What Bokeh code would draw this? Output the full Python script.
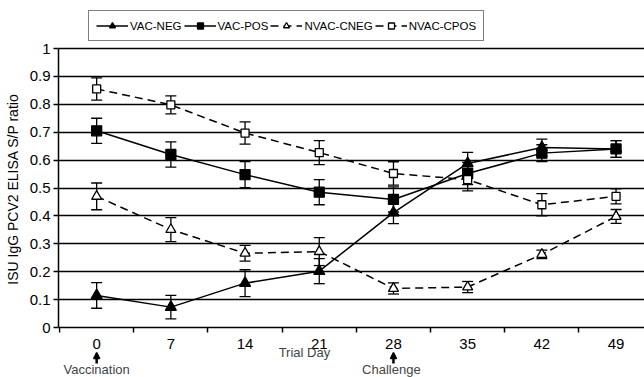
from bokeh.plotting import figure
from bokeh.models import (Range1d, FixedTicker, ColumnDataSource, Whisker, TeeHead,
                          Legend, LegendItem, Label, Arrow, NormalHead)
from bokeh.embed import file_html
from bokeh.resources import INLINE

days = [0, 7, 14, 21, 28, 35, 42, 49]
day_labels = ["0", "7", "14", "21", "28", "35", "42", "49"]

vac_neg = [0.115, 0.073, 0.159, 0.202, 0.412, 0.588, 0.645, 0.640]
vac_neg_err = [0.046, 0.042, 0.048, 0.045, 0.040, 0.040, 0.030, 0.030]
vac_pos = [0.705, 0.620, 0.548, 0.485, 0.459, 0.552, 0.625, 0.640]
vac_pos_err = [0.045, 0.045, 0.047, 0.045, 0.045, 0.040, 0.030, 0.030]
nvac_cneg = [0.470, 0.351, 0.266, 0.272, 0.140, 0.145, 0.262, 0.398]
nvac_cneg_err = [0.048, 0.043, 0.028, 0.050, 0.020, 0.020, 0.015, 0.025]
nvac_cpos = [0.855, 0.798, 0.697, 0.627, 0.552, 0.530, 0.440, 0.470]
nvac_cpos_err = [0.040, 0.032, 0.040, 0.043, 0.042, 0.040, 0.040, 0.027]

y_ticks = [0, 0.1, 0.2, 0.3, 0.4, 0.5, 0.6, 0.7, 0.8, 0.9, 1.0]
y_tick_labels = ["0", "0.1", "0.2", "0.3", "0.4", "0.5", "0.6", "0.7", "0.8", "0.9", "1"]

FONT = "Liberation Sans"
W, H = 644, 377
LEFT = 58
TOP_PX, BOT_PX = 48, 327          # figure-pixel rows of y=1 and y=0
PX = BOT_PX - TOP_PX              # pixels per 1.0 of y
Y_TOP = 1 + TOP_PX / PX
Y_BOT = -(H - BOT_PX) / PX
X0 = -3.6
X1 = X0 + (W - LEFT) / 10.6


def ypx(px):
    """figure pixel row -> data y"""
    return -(px - BOT_PX) / PX


p = figure(width=W, height=H, output_backend="svg", toolbar_location=None,
           x_range=Range1d(X0, X1), y_range=Range1d(Y_BOT, Y_TOP))
p.min_border_left = LEFT
p.min_border_right = 0
p.min_border_top = 0
p.min_border_bottom = 0
p.outline_line_color = None
p.background_fill_color = "white"
p.border_fill_color = "white"

# axes
p.xaxis.fixed_location = 0
p.xaxis.bounds = (X0, X1)
p.xaxis.ticker = FixedTicker(ticks=days, minor_ticks=[d + 3.5 for d in [-7] + days])
p.xaxis.major_label_overrides = {d: l for d, l in zip(days, day_labels)}
p.xaxis.major_tick_out = 0
p.xaxis.major_tick_in = 0
p.xaxis.minor_tick_out = 5
p.xaxis.minor_tick_in = 0
p.xaxis.major_label_standoff = 6
p.yaxis.bounds = (0, 1)
p.yaxis.ticker = FixedTicker(ticks=y_ticks)
p.yaxis.major_label_overrides = {t: l for t, l in zip(y_ticks, y_tick_labels)}
p.yaxis.major_tick_out = 5
p.yaxis.major_tick_in = 0
p.yaxis.minor_tick_out = 0
p.yaxis.major_label_standoff = 3
p.yaxis.axis_label = "ISU IgG PCV2 ELISA S/P ratio"
p.yaxis.axis_label_standoff = 6
for ax in (p.xaxis, p.yaxis):
    ax.axis_line_color = "black"
    ax.axis_line_width = 1.5
    ax.major_tick_line_color = "black"
    ax.minor_tick_line_color = "black"
    ax.major_tick_line_width = 1.5
    ax.minor_tick_line_width = 1.5
    ax.major_label_text_font = FONT
    ax.major_label_text_font_size = "15px"
    ax.major_label_text_color = "black"
    ax.axis_label_text_font = FONT
    ax.axis_label_text_font_size = "14px"
    ax.axis_label_text_font_style = "normal"
    ax.axis_label_text_color = "black"

p.xgrid.grid_line_color = None
p.ygrid.ticker = FixedTicker(ticks=y_ticks[1:])
p.ygrid.grid_line_color = "black"
p.ygrid.grid_line_width = 1.5

series = [
    ("VAC-NEG", vac_neg, vac_neg_err, "triangle", "black", "solid", 11),
    ("VAC-POS", vac_pos, vac_pos_err, "square", "black", "solid", 10),
    ("NVAC-CNEG", nvac_cneg, nvac_cneg_err, "triangle", "white", "8 5", 10),
    ("NVAC-CPOS", nvac_cpos, nvac_cpos_err, "square", "white", "8 5", 8),
]

items = []
for name, vals, errs, marker, fill, dash, size in series:
    src = ColumnDataSource(dict(x=days, y=vals,
                                upper=[v + e for v, e in zip(vals, errs)],
                                lower=[v - e for v, e in zip(vals, errs)]))
    w = Whisker(source=src, base="x", upper="upper", lower="lower",
                line_color="black", line_width=1.3,
                upper_head=TeeHead(size=11, line_color="black", line_width=1.3),
                lower_head=TeeHead(size=11, line_color="black", line_width=1.3))
    p.add_layout(w)
    lr = p.line("x", "y", source=src, line_color="black", line_width=1.5, line_dash=dash)
    sr = p.scatter("x", "y", source=src, marker=marker, size=size,
                   fill_color=fill, line_color="black", line_width=1.3)
    items.append(LegendItem(label=name, renderers=[lr, sr]))

# legend: box from px (88, 12) to (485, 41); location = bottom-left in frame px
legend = Legend(items=items, orientation="horizontal", location=(88 - LEFT, H - 41))
legend.glyph_width = 32
legend.glyph_height = 15
legend.label_standoff = 2
legend.spacing = 2
legend.padding = 7
legend.margin = 0
legend.label_text_font = FONT
legend.label_text_font_size = "11.5px"
legend.label_text_color = "black"
legend.border_line_color = "black"
legend.border_line_width = 1
legend.background_fill_alpha = 1
p.add_layout(legend, "center")

# annotations below the axis
p.add_layout(Label(x=19.6, y=ypx(352), text="Trial Day", text_align="center",
                   text_baseline="middle", text_font=FONT, text_font_size="13px"))
p.add_layout(Label(x=0, y=ypx(369), text="Vaccination", text_align="center",
                   text_baseline="middle", text_font=FONT, text_font_size="13px"))
p.add_layout(Label(x=27.8, y=ypx(369), text="Challenge", text_align="center",
                   text_baseline="middle", text_font=FONT, text_font_size="13px"))
for xd in (0, 28):
    p.add_layout(Arrow(x_start=xd, y_start=ypx(363), x_end=xd, y_end=ypx(352),
                       line_color="black", line_width=2.5,
                       end=NormalHead(size=6, fill_color="black", line_color="black",
                                      line_width=1.5)))

open("out.html", "w").write(file_html(p, INLINE))
